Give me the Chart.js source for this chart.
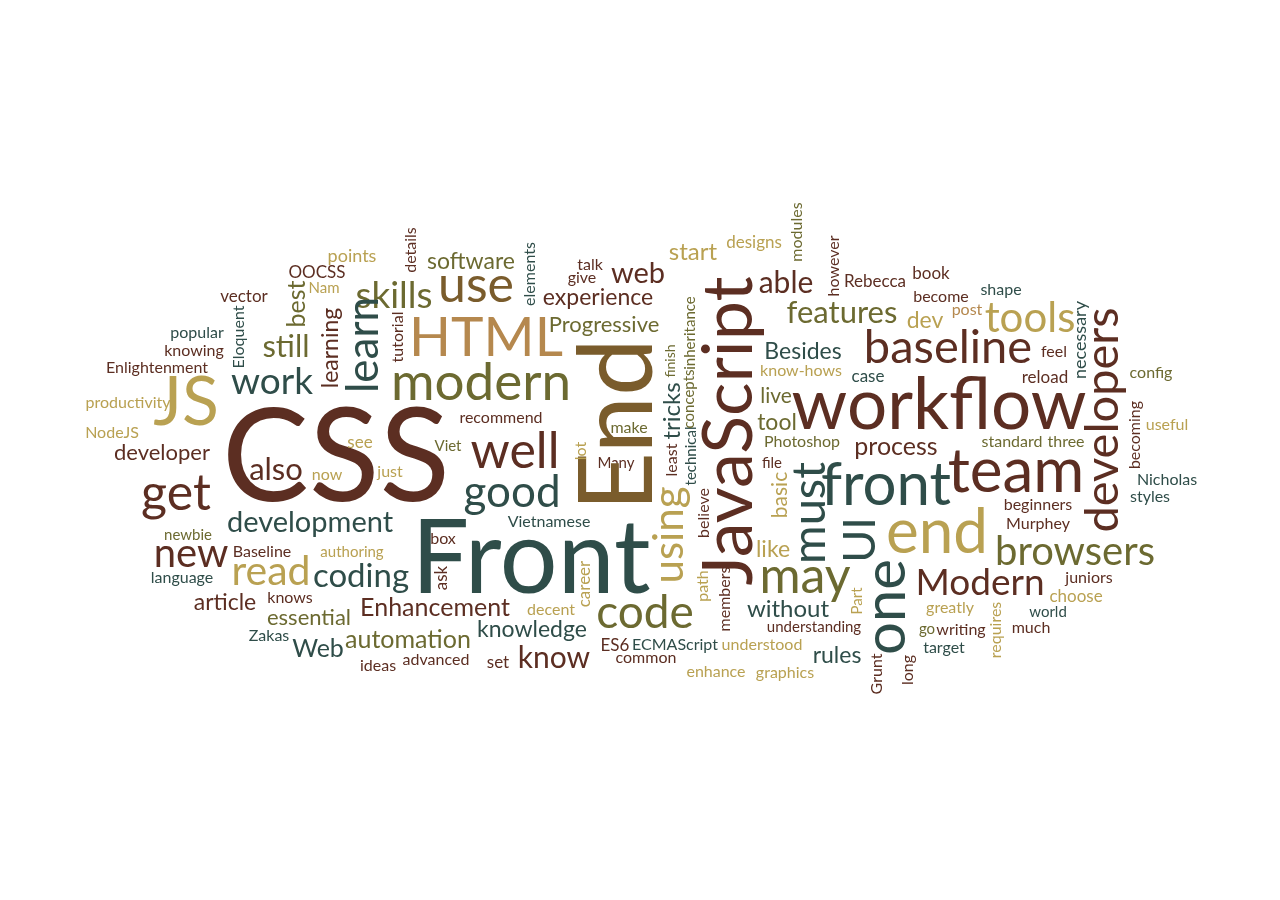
<!DOCTYPE html>
<html>
<head>
<meta charset="utf-8">
<style>
  html, body { margin: 0; padding: 0; background: #ffffff; }
  #wrap { width: 1280px; height: 900px; position: relative; }
</style>
<script src="https://cdn.jsdelivr.net/npm/chart.js@4.4.1/dist/chart.umd.min.js"></script>
</head>
<body>
<div id="wrap"><canvas id="cloud"></canvas></div>
<script>
// ---- data: words, their weights, layout anchors, orientation, tone ----
const WORDS = [
  "CSS","Front","workflow","JS","HTML","modern","team","end","front","well",
  "use","get","good","code","may","tools","baseline","browsers","Modern","new",
  "read","work","still","skills","also","development","coding","able","features","know",
  "web","experience","Progressive","software","start","Enhancement","automation","knowledge","Web","essential",
  "article","developer","process","without","rules","Besides","tool","live","like","dev",
  "points","OOCSS","Nam","vector","popular","knowing","Enlightenment","productivity","NodeJS","see",
  "now","just","Viet","recommend","talk","give","make","Many","know-hows","case",
  "Photoshop","file","designs","Rebecca","book","become","shape","post","feel","reload",
  "config","useful","standard","three","Nicholas","styles","beginners","Murphey","juniors","choose",
  "greatly","world","much","go","writing","target","understanding","understood","ECMAScript","ES6",
  "common","enhance","graphics","set","advanced","ideas","decent","box","Vietnamese","authoring",
  "newbie","Baseline","language","knows","Zakas",
  "End","JavaScript","developers","learn","must","one","UI","using","best","learning",
  "Eloquent","details","elements","tutorial","tricks","finish","least","technical","concepts","inheritance",
  "lot","modules","however","necessary","becoming","basic","Part","Grunt","long","believe",
  "path","members","career","ask","requires"
];
const WEIGHTS = [
  130,102,71,68,55,53,62,62,60,50,
  50,50,44,46,50,42,47,40,37,40,
  41,37,31,37,31,29,33,30,31,30,
  29,23,22,23,24,25,25,23,25,22,
  23,22,25,24,23,23,23,21,23,23,
  18,17,15,17,16,16,16,16,16,17,
  16,16,15,16,16,16,16,15,16,17,
  16,15,17,17,17,16,16,16,16,17,
  16,16,16,16,16,16,16,16,16,17,
  16,15,16,15,16,16,15,16,16,17,
  16,16,16,17,16,16,16,16,16,15,
  15,16,16,16,16,
  103,70,47,44,47,58,45,42,25,23,
  16,16,16,16,24,14,16,15,15,15,
  16,16,16,18,16,21,15,16,16,16,
  16,16,17,17,16
];
const X = [
  336,531,939,186,486,481,1016,937,886,515,
  476,176,512,645,805,1030,948,1075,980,191,
  271,272,286,394,276,310,361,786,842,554,
  638,598,604,471,693,435,408,532,318,309,
  225,162,896,788,837,803,777,776,773,925,
  352,317,324,244,197,194,157,128,112,360,
  327,390,448,501,590,582,629,616,801,868,
  802,772,754,875,931,941,1001,967,1054,1045,
  1151,1167,1012,1066,1167,1150,1038,1038,1089,1076,
  950,1048,1031,927,961,944,814,762,675,615,
  646,716,785,498,436,378,551,443,549,352,
  188,262,182,290,269,
  652,752,1118,378,825,905,875,683,305,338,
  244,416,535,403,680,675,677,696,694,695,
  586,802,839,1086,1140,787,862,882,913,709,
  708,730,590,447,1001
];
const Y = [
  501,593,429,425,356,400,492,553,505,468,
  302,510,507,628,593,332,363,565,595,567,
  585,394,357,308,480,532,587,293,323,668,
  283,305,332,269,260,616,648,637,657,625,
  610,460,455,617,663,359,430,403,557,328,
  262,278,293,302,338,356,373,408,438,448,
  480,477,451,423,270,283,433,468,376,382,
  447,468,248,287,279,302,295,315,357,383,
  378,430,447,447,485,502,510,529,583,602,
  613,617,633,634,635,653,632,650,650,651,
  663,677,678,668,665,671,615,544,527,557,
  540,557,583,603,641,
  425,431,420,345,513,607,540,535,304,348,
  337,250,274,337,411,361,460,456,399,333,
  451,232,266,340,435,495,601,674,670,513,
  586,599,584,578,630
];
// 0 = horizontal, -90 = reads bottom-to-top
const ANGLE = WORDS.map((w, i) => (i >= 115 ? -90 : 0));
// tone index into PALETTE
const TONE = [
  0,1,0,3,5,2,0,3,1,0,
  4,0,1,2,2,3,0,2,0,0,
  3,1,2,2,0,1,1,0,2,0,
  0,0,2,2,3,0,2,1,1,2,
  0,0,0,1,1,1,2,2,3,3,
  3,0,3,0,1,0,0,3,3,3,
  3,3,2,0,0,0,2,0,3,1,
  2,0,3,0,0,0,1,5,0,0,
  2,3,2,2,1,1,0,0,0,3,
  3,1,0,2,0,1,0,3,1,0,
  0,3,3,0,0,0,3,0,1,3,
  2,0,1,0,1,
  4,0,0,1,1,1,1,3,2,0,
  1,0,1,0,1,2,0,1,2,2,
  3,2,0,1,0,3,3,0,0,0,
  3,0,3,0,3
];
const PALETTE = ["#5c2e22", "#2f4d49", "#6c6a31", "#b9a152", "#7a5c2c", "#b5884e"];

// ---- rendering ----
const cloudText = {
  id: 'cloudText',
  afterDatasetsDraw(chart) {
    const ctx = chart.ctx;
    const meta = chart.getDatasetMeta(0);
    const k = chart.chartArea.width / 1280;
    meta.data.forEach((pt, i) => {
      ctx.save();
      ctx.translate(pt.x, pt.y);
      ctx.rotate(ANGLE[i] * Math.PI / 180);
      ctx.font = (WEIGHTS[i] * k) + 'px Lato, "Open Sans", sans-serif';
      ctx.fillStyle = PALETTE[TONE[i]];
      ctx.textAlign = 'center';
      ctx.textBaseline = 'alphabetic';
      ctx.fillText(WORDS[i], 0, 0);
      ctx.restore();
    });
  }
};

function build() {
  new Chart(document.getElementById('cloud'), {
    type: 'scatter',
    data: {
      datasets: [{
        label: 'words',
        data: WORDS.map((w, i) => ({ x: X[i], y: Y[i] })),
        pointRadius: 0,
        pointHoverRadius: 0
      }]
    },
    options: {
      responsive: true,
      maintainAspectRatio: false,
      animation: false,
      layout: { padding: 0 },
      scales: {
        x: { type: 'linear', min: 0, max: 1280, display: false },
        y: { type: 'linear', min: 0, max: 900, reverse: true, display: false }
      },
      plugins: { legend: { display: false }, tooltip: { enabled: false } }
    },
    plugins: [cloudText]
  });
}
if (document.fonts && document.fonts.load) {
  document.fonts.load('20px Lato').then(build, build);
} else {
  build();
}
</script>
</body>
</html>
